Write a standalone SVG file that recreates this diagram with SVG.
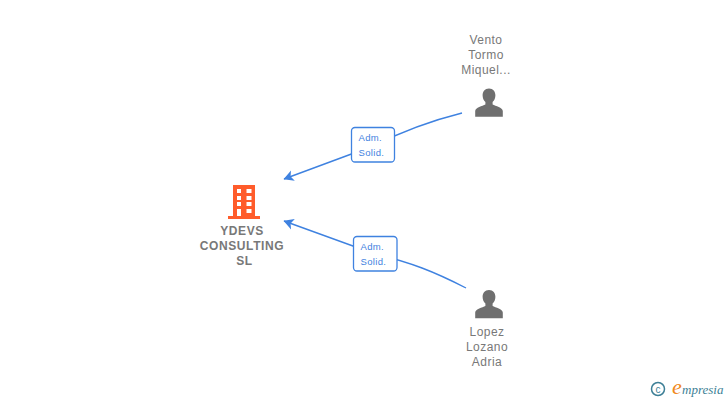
<svg xmlns="http://www.w3.org/2000/svg" width="728" height="400" viewBox="0 0 728 400">
<style>
.lbl{font-family:"Liberation Sans",Arial,sans-serif;font-size:12px;fill:#787878;text-anchor:middle;letter-spacing:.45px}
.co{font-weight:bold;letter-spacing:.6px}
.edge{fill:none;stroke:#3f82e0;stroke-width:1.4}
.box{fill:#fff;stroke:#3f82e0;stroke-width:1.3}
.et{font-family:"Liberation Sans",Arial,sans-serif;font-size:9.5px;fill:#3f82e0;letter-spacing:.35px}
.person{fill:#6f6f6f}
</style>
<defs>
<marker id="ah" markerUnits="userSpaceOnUse" markerWidth="11" markerHeight="12" refX="9.500" refY="6" orient="auto"><path d="M10 6L0 .5L2.500 6L0 11.500Z" fill="#3f82e0"/></marker>
<g id="p"><path class="person" d="M0 -15c-4.200 0-6.400 3-6.400 6.800c0 2.900 1.100 5.200 2.800 6.700v2.500c-3 1.500-10 2.800-10.200 6.500v5.800h27.600v-5.800c-.2-3.700-7.200-5-10.200-6.500v-2.500c1.700-1.500 2.800-3.800 2.800-6.700c0-3.800-2.200-6.800-6.400-6.800z"/></g>
</defs>
<g id="connectors">
<path class="edge" marker-end="url(#ah)" d="M462 113C430 121 405 130 373 146L284 179"/>
<path class="edge" marker-end="url(#ah)" d="M466 288C435 272 410 262 375 254L284 221"/>
</g>
<g id="edge-label-1"><rect class="box" x="351.500" y="127.500" width="43" height="34.500" rx="3.500"/><text class="et" x="358.500" y="141">Adm.</text><text class="et" x="358.500" y="156">Solid.</text></g>
<g id="edge-label-2"><rect class="box" x="353.500" y="236.500" width="43.500" height="34.500" rx="3.500"/><text class="et" x="360.500" y="250">Adm.</text><text class="et" x="360.500" y="265">Solid.</text></g>
<g id="node-company">
<path fill="#ff5c2b" fill-rule="evenodd" d="M233 185H255V216H260V219H228V216H233ZM237 189v4h4v-4zM246.500 189v4h5v-4zM237 196v4h4v-4zM246.500 196v4h5v-4zM237 202v4h4v-4zM246.500 202v4h5v-4zM237 209v7h4v-7zM246.500 209v4h5v-4z"/>
<text class="lbl co" x="242" y="235">YDEVS</text><text class="lbl co" x="242" y="250">CONSULTING</text><text class="lbl co" x="244.500" y="265">SL</text>
</g>
<g id="node-vento">
<text class="lbl" x="486" y="44">Vento</text><text class="lbl" x="486" y="59">Tormo</text><text class="lbl" x="486" y="74">Miquel...</text>
<use href="#p" x="489" y="103.500"/>
</g>
<g id="node-lopez">
<use href="#p" x="489" y="305"/>
<text class="lbl" x="487" y="336">Lopez</text><text class="lbl" x="487" y="351">Lozano</text><text class="lbl" x="487" y="366">Adria</text>
</g>
<g id="watermark">
<circle cx="658" cy="389" r="6.500" fill="none" stroke="#3d7f96" stroke-width="1.500"/>
<text x="658" y="392.500" font-family="'Liberation Sans',sans-serif" font-size="10" fill="#3d7f96" text-anchor="middle">c</text>
<text x="672" y="394" font-family="'Liberation Serif',serif" font-size="22" font-style="italic" fill="#f08a1d">e</text>
<text x="682" y="394" font-family="'Liberation Serif',serif" font-size="13" font-style="italic" fill="#3d7f96">mpresia</text>
</g>
</svg>
